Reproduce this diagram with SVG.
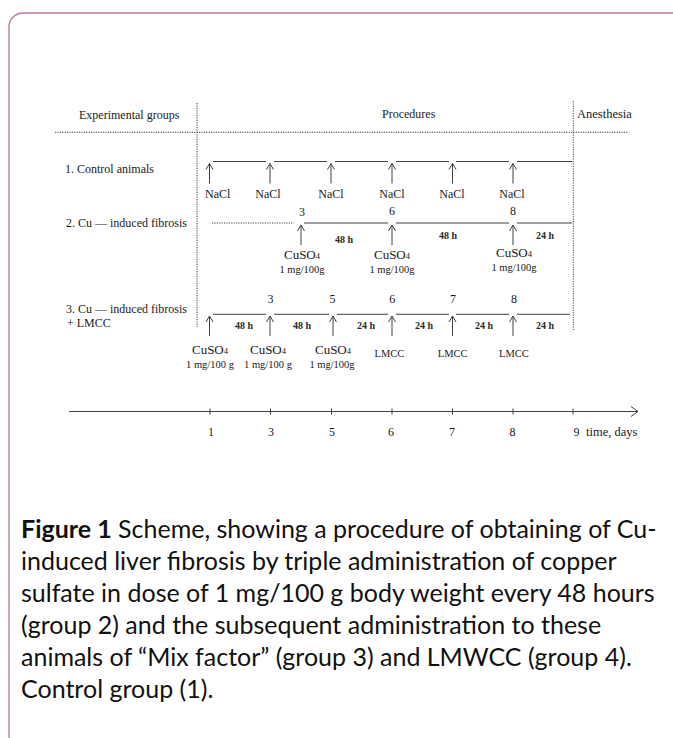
<svg xmlns="http://www.w3.org/2000/svg" xmlns:xlink="http://www.w3.org/1999/xlink" width="673" height="738" viewBox="0 0 673 738">
<style>
.t{font-family:"Liberation Serif","Times New Roman",serif;fill:#1a1a1a;font-size:12px}
.s{font-size:10.5px}
.h{font-size:10px;font-weight:bold;fill:#2a2a2a}
.c{text-anchor:middle}
.ln{stroke:#404040;stroke-width:1;fill:none}
.dot{stroke:#404040;stroke-width:1;stroke-dasharray:1.2 1.2;fill:none}
.cap{font-family:Lato,"Open Sans",sans-serif;font-size:25px;fill:#111}
</style>
<defs>
<path id="arr" d="M0,0 V20 M-3.5,6 L0,0 L3.5,6" stroke="#404040" stroke-width="1" fill="none"/>
</defs>
<rect width="673" height="738" fill="#fff"/>
<path d="M673,13 H23 A14,14 0 0 0 9,27 V736 A14,14 0 0 0 23,750" fill="none" stroke="#bb7aa2" stroke-width="1.4"/>

<g id="header">
<text class="t" x="79" y="119">Experimental groups</text>
<text class="t" x="382" y="117.5">Procedures</text>
<text class="t" x="577" y="117.5" style="font-size:12.5px">Anesthesia</text>
<path class="dot" d="M197,103 V327 M573.3,101 V330 M55,132.3 H628"/>
</g>

<g id="group1">
<text class="t" x="65" y="172.5">1. Control animals</text>
<path class="ln" d="M213,161.5 H266 M274,161.5 H327 M335,161.5 H388 M396,161.5 H449 M456,161.5 H509 M517,161.5 H572"/>
<use xlink:href="#arr" x="209.5" y="163.5"/>
<use xlink:href="#arr" x="270" y="163.5"/>
<use xlink:href="#arr" x="331" y="163.5"/>
<use xlink:href="#arr" x="392" y="163.5"/>
<use xlink:href="#arr" x="452.5" y="163.5"/>
<use xlink:href="#arr" x="513" y="163.5"/>
<text class="t" x="205" y="197.5">NaCl</text>
<text class="t c" x="268" y="197.5">NaCl</text>
<text class="t c" x="331" y="197.5">NaCl</text>
<text class="t c" x="392" y="197.5">NaCl</text>
<text class="t c" x="452" y="197.5">NaCl</text>
<text class="t c" x="512" y="197.5">NaCl</text>
</g>

<g id="group2">
<text class="t" x="66" y="227">2. Cu — induced fibrosis</text>
<text class="t c" x="302" y="216">3</text>
<text class="t c" x="392" y="215">6</text>
<text class="t c" x="513" y="215">8</text>
<path class="dot" d="M212,223 H294"/>
<path class="ln" d="M304,223 H388 M396,223 H509 M517,223 H572"/>
<use xlink:href="#arr" x="301" y="225"/>
<use xlink:href="#arr" x="392" y="225"/>
<use xlink:href="#arr" x="513" y="225"/>
<text class="t h c" x="344" y="242.5">48 h</text>
<text class="t h c" x="448" y="238.5">48 h</text>
<text class="t h c" x="545" y="238.5">24 h</text>
<text class="t c" x="302" y="259" style="font-size:13px">CuSO<tspan font-size="8.5">4</tspan></text>
<text class="t s c" x="302" y="272.5">1 mg/100g</text>
<text class="t c" x="392" y="259" style="font-size:13px">CuSO<tspan font-size="8.5">4</tspan></text>
<text class="t s c" x="392" y="272.5">1 mg/100g</text>
<text class="t c" x="514" y="257" style="font-size:13px">CuSO<tspan font-size="8.5">4</tspan></text>
<text class="t s c" x="514" y="270.5">1 mg/100g</text>
</g>

<g id="group3">
<text class="t" x="66" y="313">3. Cu — induced fibrosis</text>
<text class="t" x="67" y="327">+ LMCC</text>
<text class="t c" x="270.5" y="303">3</text>
<text class="t c" x="332.5" y="303">5</text>
<text class="t c" x="392.3" y="303">6</text>
<text class="t c" x="453" y="303">7</text>
<text class="t c" x="514" y="303">8</text>
<path class="ln" d="M213,314.3 H266 M274,314.3 H329 M337,314.3 H388 M396,314.3 H449 M456,314.3 H509 M517,314.3 H570"/>
<use xlink:href="#arr" x="209.5" y="316"/>
<use xlink:href="#arr" x="270" y="316"/>
<use xlink:href="#arr" x="333" y="316"/>
<use xlink:href="#arr" x="392" y="316"/>
<use xlink:href="#arr" x="452.5" y="316"/>
<use xlink:href="#arr" x="513" y="316"/>
<text class="t h c" x="244" y="328.5">48 h</text>
<text class="t h c" x="302" y="328.5">48 h</text>
<text class="t h c" x="366" y="328.5">24 h</text>
<text class="t h c" x="424" y="328.5">24 h</text>
<text class="t h c" x="484" y="328.5">24 h</text>
<text class="t h c" x="545" y="328.5">24 h</text>
<text class="t c" x="210" y="354" style="font-size:13px">CuSO<tspan font-size="8.5">4</tspan></text>
<text class="t c" x="268" y="354" style="font-size:13px">CuSO<tspan font-size="8.5">4</tspan></text>
<text class="t c" x="333" y="354" style="font-size:13px">CuSO<tspan font-size="8.5">4</tspan></text>
<text class="t s c" x="210" y="367.5">1 mg/100 g</text>
<text class="t s c" x="268" y="367.5">1 mg/100 g</text>
<text class="t s c" x="332" y="367.5">1 mg/100g</text>
<text class="t s c" x="389.5" y="356.7">LMCC</text>
<text class="t s c" x="452.7" y="356.7">LMCC</text>
<text class="t s c" x="514" y="356.7">LMCC</text>
</g>

<g id="axis">
<path class="ln" d="M69,411.5 H638 M631,406.5 L638,411.5 L631,416.5 M210,408.5 V414.5 M270.5,408.5 V414.5 M331.5,408.5 V414.5 M392,408.5 V414.5 M452.5,408.5 V414.5 M513,408.5 V414.5 M573,408.5 V414.5"/>
<text class="t c" x="211" y="435.5">1</text>
<text class="t c" x="271" y="435.5">3</text>
<text class="t c" x="332" y="435.5">5</text>
<text class="t c" x="391" y="435.5">6</text>
<text class="t c" x="452" y="435.5">7</text>
<text class="t c" x="512.5" y="435.5">8</text>
<text class="t c" x="576.5" y="435.5">9</text>
<text class="t" x="586" y="435.5" style="font-size:12.5px">time, days</text>
</g>

<g id="caption">
<text class="cap" x="21" y="538"><tspan font-weight="bold">Figure 1</tspan> Scheme, showing a procedure of obtaining of Cu-</text>
<text class="cap" x="21" y="570">induced liver fibrosis by triple administration of copper</text>
<text class="cap" x="21" y="602">sulfate in dose of 1 mg/100 g body weight every 48 hours</text>
<text class="cap" x="21" y="634">(group 2) and the subsequent administration to these</text>
<text class="cap" x="21" y="666">animals of “Mix factor” (group 3) and LMWCC (group 4).</text>
<text class="cap" x="21" y="698">Control group (1).</text>
</g>
</svg>
